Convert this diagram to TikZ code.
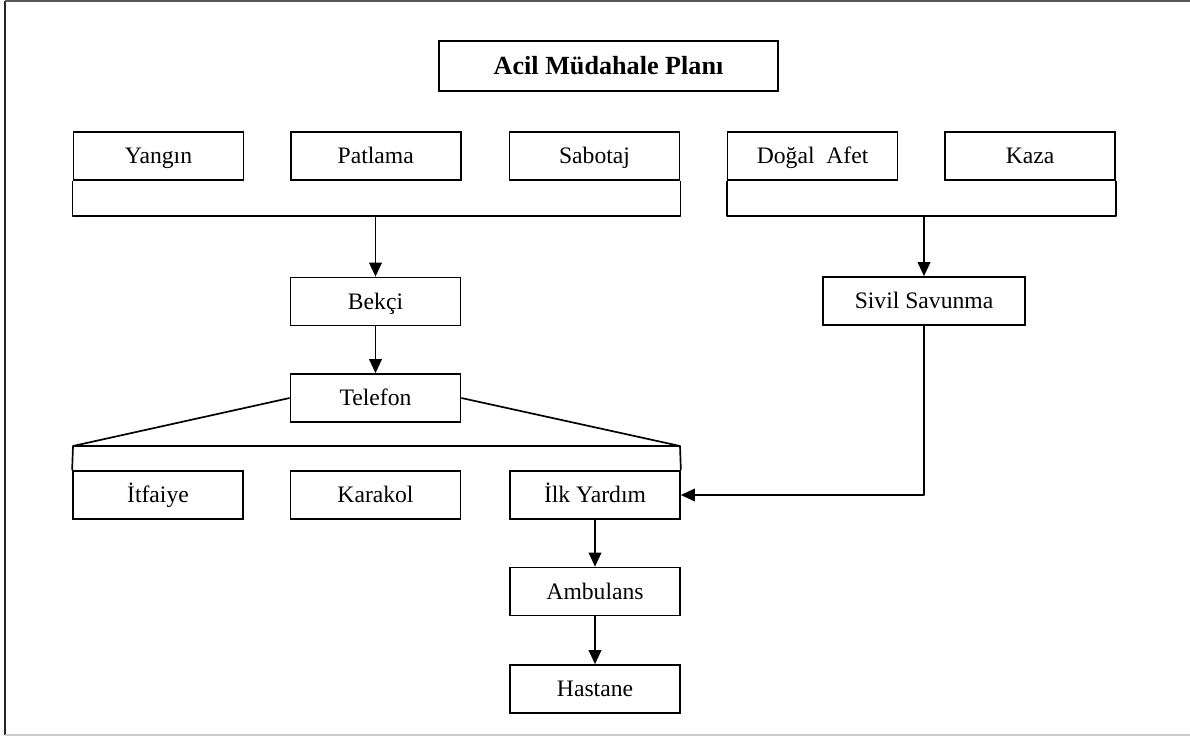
\documentclass[tikz,border=0pt]{standalone}
\usepackage{fontspec}
\setmainfont{Liberation Serif}
\usetikzlibrary{arrows.meta}
\tikzset{
    box/.style = {
        draw, line width=1.2pt, inner sep=0pt,
        minimum width=4.25cm, minimum height=1.2cm,
        text height=11pt, text depth=0pt,
        font=\fontsize{16.8}{19}\selectfont
    },
    link/.style = {line width=1.2pt, line join=round},
    flow/.style = {link, -{Triangle[length=10pt, width=9pt]}}
}
\begin{document}
\begin{tikzpicture}[x=0.025cm, y=-0.025cm]
        \useasboundingbox (0,0) rectangle (1190,736);
        % page frame
        \draw[line width=2pt, black!85] (5,735) -- (5,1);
        \draw[line width=1.2pt, black!65] (5,1) -- (1190,1);
        \draw[line width=1.2pt, black!20] (5,735) -- (1190,735);

        \node[box, minimum width=8.475cm, minimum height=1.25cm, text height=12.3pt, font=\bfseries\fontsize{18.6}{21}\selectfont] (plan) at (608.5,66) {Acil Müdahale Planı};

        \node[box] (yangin) at (158.5,156) {Yangın};
        \node[box] (patlama) at (375.75,156) {Patlama};
        \node[box] (sabotaj) at (594.5,156) {Sabotaj};
        \node[box] (dogal) at (812.6,156) {Doğal~ Afet};
        \node[box] (kaza) at (1030,156) {Kaza};

        \coordinate (lbar) at (376,216);
        \coordinate (rbar) at (923,216);
        \draw[link] (yangin.south west) |- (lbar) -| (sabotaj.south east);
        \draw[link] (dogal.south west) |- (rbar) -| (kaza.south east);

        \node[box] (bekci) at (375.5,301.5) {Bekçi};
        \node[box] (telefon) at (375.5,398) {Telefon};
        \node[box, minimum width=5.05cm] (sivil) at (924,301) {Sivil Savunma};
        \draw[flow] (bekci |- lbar) -- (bekci);
        \draw[flow] (bekci) -- (telefon);
        \draw[flow] (sivil |- rbar) -- (sivil);

        \node[box] (itfaiye) at (158,495) {İtfaiye};
        \node[box] (karakol) at (375.5,495) {Karakol};
        \node[box] (ilk) at (595,495) {İlk Yardım};
        \coordinate (tl) at (73,446);
        \coordinate (tr) at (680,446);
        \draw[link] (telefon.west) -- (tl) -- (tr) -- (telefon.east);
        \draw[link] (tl) -- (itfaiye.north west);
        \draw[link] (tr) -- (ilk.north east);
        \draw[flow] (sivil) |- (ilk);

        \node[box] (ambulans) at (595,591.5) {Ambulans};
        \node[box] (hastane) at (595,689) {Hastane};
        \draw[flow] (ilk) -- (ambulans);
        \draw[flow] (ambulans) -- (hastane);
    \end{tikzpicture}
\end{document}
